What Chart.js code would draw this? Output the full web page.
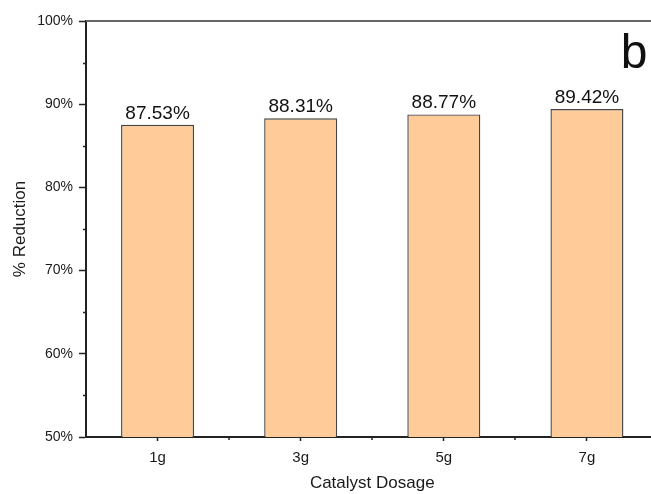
<!DOCTYPE html>
<html>
<head>
<meta charset="utf-8">
<script src="https://cdn.jsdelivr.net/npm/chart.js@4/dist/chart.umd.min.js"></script>
<style>
  html, body { margin: 0; padding: 0; background: #fff; overflow: hidden; }
  #wrap { position: relative; width: 700px; height: 494px; }
</style>
</head>
<body>
<div id="wrap"><canvas id="c"></canvas></div>
<script>
// Catalyst dosage vs. % reduction
const categories = ['1g', '3g', '5g', '7g'];
const reduction = [87.53, 88.31, 88.77, 89.42];
const yMin = 50;
const yMax = 100;
const yStep = 10;
const panelLetter = 'b';

const FONT = "'Liberation Sans', Arial, sans-serif";

// Minor ticks, frame top line, value labels and panel letter
const decorations = {
  id: 'decorations',
  afterDraw(chart) {
    const { ctx, chartArea, scales } = chart;
    const x = scales.x, y = scales.y;
    ctx.save();

    // top frame line
    ctx.strokeStyle = '#666';
    ctx.lineWidth = 2;
    ctx.beginPath();
    ctx.moveTo(chartArea.left, chartArea.top);
    ctx.lineTo(chart.width, chartArea.top);
    ctx.stroke();

    // y minor ticks (midway between labelled ticks)
    ctx.strokeStyle = '#222';
    ctx.lineWidth = 1.5;
    for (let v = yMin + yStep / 2; v < yMax; v += yStep) {
      const py = Math.round(y.getPixelForValue(v)) + 0.5;
      ctx.beginPath();
      ctx.moveTo(chartArea.left, py);
      ctx.lineTo(chartArea.left - 3, py);
      ctx.stroke();
    }
    // x minor ticks at category boundaries
    for (let i = 0; i < categories.length; i++) {
      const px = Math.round((x.getPixelForValue(i) + x.getPixelForValue(i + 1)) / 2);
      ctx.beginPath();
      ctx.moveTo(px, chartArea.bottom);
      ctx.lineTo(px, chartArea.bottom + 3);
      ctx.stroke();
    }

    // value labels above bars
    const meta = chart.getDatasetMeta(0);
    ctx.fillStyle = '#111';
    ctx.font = '19px ' + FONT;
    ctx.textAlign = 'center';
    ctx.textBaseline = 'alphabetic';
    meta.data.forEach((bar, i) => {
      ctx.fillText(reduction[i].toFixed(2) + '%', bar.x, bar.y - 6);
    });

    // panel letter
    ctx.font = '48px ' + FONT;
    ctx.fillStyle = '#111';
    ctx.textAlign = 'center';
    ctx.fillText(panelLetter, 634, 68);

    ctx.restore();
  }
};

new Chart(document.getElementById('c'), {
  type: 'bar',
  data: {
    labels: categories,
    datasets: [{
      data: reduction,
      backgroundColor: '#FFCC99',
      borderColor: '#444',
      borderWidth: 1.4,
      borderSkipped: false,
      barPercentage: 0.51,
      categoryPercentage: 1.0
    }]
  },
  options: {
    responsive: true,
    maintainAspectRatio: false,
    animation: false,
    events: [],
    layout: { padding: { top: 21, right: 41.5, bottom: 0, left: 0 } },
    plugins: {
      legend: { display: false },
      tooltip: { enabled: false }
    },
    scales: {
      x: {
        offset: true,
        grid: {
          offset: false,
          drawOnChartArea: false,
          drawTicks: true,
          tickLength: 4,
          tickWidth: 1.5,
          color: '#222'
        },
        border: { display: true, color: '#222', width: 2 },
        ticks: {
          color: '#1a1a1a',
          padding: 8,
          font: { family: FONT, size: 15 },
          maxRotation: 0
        },
        title: {
          display: true,
          text: 'Catalyst Dosage',
          color: '#1a1a1a',
          font: { family: FONT, size: 17 },
          padding: { top: 0, bottom: 0 }
        },
        afterFit(s) { s.height = 57; }
      },
      y: {
        min: yMin,
        max: yMax,
        grid: {
          drawOnChartArea: false,
          drawTicks: true,
          tickLength: 7,
          tickWidth: 1.5,
          color: '#222'
        },
        border: { display: true, color: '#222', width: 2 },
        ticks: {
          stepSize: yStep,
          color: '#1a1a1a',
          padding: 6,
          font: { family: FONT, size: 14 },
          callback: v => v + '%'
        },
        title: {
          display: true,
          text: '% Reduction',
          color: '#1a1a1a',
          font: { family: FONT, size: 17 },
          padding: { top: 10, bottom: 0 }
        },
        afterFit(s) { s.width = 86; }
      }
    }
  },
  plugins: [decorations]
});
</script>
</body>
</html>
